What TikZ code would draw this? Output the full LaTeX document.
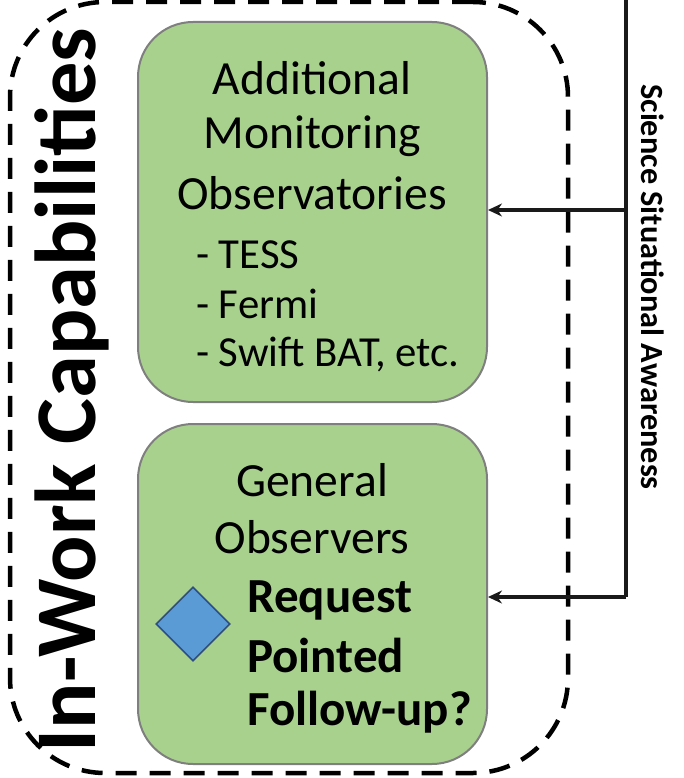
\documentclass[tikz,border=0pt]{standalone}
\usepackage{fontspec}
\setmainfont{Carlito}
\usetikzlibrary{arrows.meta}
\definecolor{boxgreen}{HTML}{A9D18E}
\definecolor{boxedge}{HTML}{7F7F7F}
\definecolor{diafill}{HTML}{5B9BD5}
\definecolor{diaedge}{HTML}{2F4F7F}
\definecolor{linecol}{HTML}{1A1A1A}
\tikzset{
  greenbox/.style={draw=boxedge, line width=2pt, fill=boxgreen, rounded corners=55pt, minimum width=349pt, inner sep=0pt},
  bigtxt/.style={font=\fontsize{47.6}{56}\selectfont, inner sep=0pt},
  listtxt/.style={font=\fontsize{42.8}{48}\selectfont, inner sep=0pt, anchor=west},
  boldtxt/.style={font=\fontsize{49}{54}\selectfont\bfseries, inner sep=0pt, anchor=west},
  frameline/.style={draw=black, line width=4.5pt, dash pattern=on 21pt off 13pt, rounded corners=95pt},
  feed/.style={draw=linecol, line width=3.5pt},
  feedarrow/.style={feed, -{Stealth[length=14pt,width=13pt]}},
}
\begin{document}
\begin{tikzpicture}[x=1pt,y=-1pt]
\useasboundingbox (0,0) rectangle (683,778);
% outer dashed frame
\node[frameline, minimum width=558pt, minimum height=771pt, inner sep=0pt] (frame) at (289,387.5) {};
% boxes
\node[greenbox, minimum height=380pt] (b1) at (312.5,212) {};
\node[greenbox, minimum height=340pt] (b2) at (312.5,594) {};
% box 1 text
\node[bigtxt] (t1) at (312,78) {Additional};
\node[bigtxt] (t2) at (312,136) {Monitoring};
\node[bigtxt] (t3) at (312,193) {Observatories};
\node[listtxt] (l1) at (196,255) {- TESS};
\node[listtxt] (l2) at (196,304) {- Fermi};
\node[listtxt] (l3) at (196,355) {- Swift BAT, etc.};
% box 2 text
\node[bigtxt] (g1) at (312,480) {General};
\node[bigtxt] (g2) at (312,537) {Observers};
\node[boldtxt] (r1) at (247,600) {Request};
\node[boldtxt] (r2) at (247,655) {Pointed};
\node[boldtxt] (r3) at (247,712) {Follow-up?};
\node[draw=diaedge, line width=1.5pt, fill=diafill, minimum width=52pt, minimum height=52pt, rotate=45, inner sep=0pt] (dia) at (193,624) {};
% side titles
\node[font=\fontsize{86.5}{86}\selectfont\bfseries, rotate=90, inner sep=0pt] (cap) at (72,390) {In-Work Capabilities};
\node[font=\fontsize{32.3}{32}\selectfont\bfseries, rotate=-90, inner sep=0pt] (ssa) at (653,287) {Science Situational Awareness};
% feed lines
\coordinate (vtop) at (626,-5);
\coordinate (v1) at (626,210);
\coordinate (v2) at (626,597);
\draw[feed] (vtop) -- (v2);
\draw[feedarrow] (v1) -- (v1 -| b1.east);
\draw[feedarrow, line join=miter] (v2) -- (v2 -| b2.east);
\end{tikzpicture}
\end{document}
